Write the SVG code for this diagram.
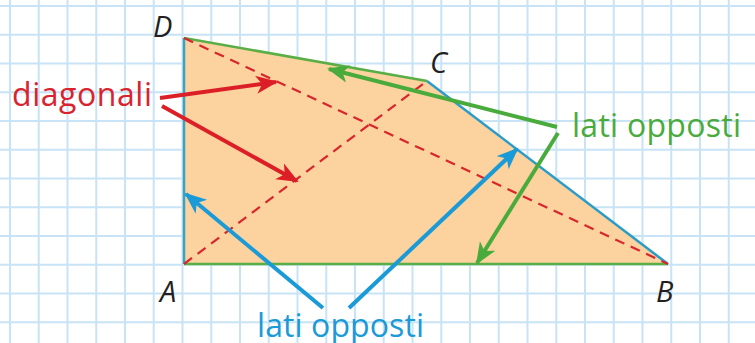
<svg xmlns="http://www.w3.org/2000/svg" width="755" height="343" viewBox="0 0 755 343">
<style>
.grid line{stroke:#c8e3f5;stroke-width:2}
.lbl{font-family:"Open Sans","Liberation Sans",sans-serif;font-size:32px}
.pt{font-family:"Open Sans","Liberation Sans",sans-serif;font-size:29px;font-style:italic;fill:#231f20}
.diag{stroke:#d7262c;stroke-width:2.2;stroke-dasharray:10 7;fill:none}
.ar{stroke-width:4;fill:none;stroke-linecap:butt}
</style>
<defs>
<marker id="mr" markerUnits="userSpaceOnUse" markerWidth="26" markerHeight="22" refX="20" refY="9" orient="auto"><path d="M0,0 L22,9 L0,18 L6,9 z" fill="#dc1f26"/></marker>
<marker id="mg" markerUnits="userSpaceOnUse" markerWidth="26" markerHeight="22" refX="20" refY="9" orient="auto"><path d="M0,0 L22,9 L0,18 L6,9 z" fill="#4aab3d"/></marker>
<marker id="mb" markerUnits="userSpaceOnUse" markerWidth="26" markerHeight="22" refX="20" refY="9" orient="auto"><path d="M0,0 L22,9 L0,18 L6,9 z" fill="#1a9ad6"/></marker>
</defs>
<rect width="755" height="343" fill="#ffffff"/>
<g class="grid">
<line x1="10" y1="0" x2="10" y2="343"/><line x1="38.75" y1="0" x2="38.75" y2="343"/><line x1="67.5" y1="0" x2="67.5" y2="343"/><line x1="96.25" y1="0" x2="96.25" y2="343"/><line x1="125" y1="0" x2="125" y2="343"/><line x1="153.75" y1="0" x2="153.75" y2="343"/><line x1="182.5" y1="0" x2="182.5" y2="343"/><line x1="211.25" y1="0" x2="211.25" y2="343"/><line x1="240" y1="0" x2="240" y2="343"/><line x1="268.75" y1="0" x2="268.75" y2="343"/><line x1="297.5" y1="0" x2="297.5" y2="343"/><line x1="326.25" y1="0" x2="326.25" y2="343"/><line x1="355" y1="0" x2="355" y2="343"/><line x1="383.75" y1="0" x2="383.75" y2="343"/><line x1="412.5" y1="0" x2="412.5" y2="343"/><line x1="441.25" y1="0" x2="441.25" y2="343"/><line x1="470" y1="0" x2="470" y2="343"/><line x1="498.75" y1="0" x2="498.75" y2="343"/><line x1="527.5" y1="0" x2="527.5" y2="343"/><line x1="556.25" y1="0" x2="556.25" y2="343"/><line x1="585" y1="0" x2="585" y2="343"/><line x1="613.75" y1="0" x2="613.75" y2="343"/><line x1="642.5" y1="0" x2="642.5" y2="343"/><line x1="671.25" y1="0" x2="671.25" y2="343"/><line x1="700" y1="0" x2="700" y2="343"/><line x1="728.75" y1="0" x2="728.75" y2="343"/>
<line x1="0" y1="6" x2="755" y2="6"/><line x1="0" y1="34.75" x2="755" y2="34.75"/><line x1="0" y1="63.5" x2="755" y2="63.5"/><line x1="0" y1="92.25" x2="755" y2="92.25"/><line x1="0" y1="121" x2="755" y2="121"/><line x1="0" y1="149.75" x2="755" y2="149.75"/><line x1="0" y1="178.5" x2="755" y2="178.5"/><line x1="0" y1="207.25" x2="755" y2="207.25"/><line x1="0" y1="236" x2="755" y2="236"/><line x1="0" y1="264.75" x2="755" y2="264.75"/><line x1="0" y1="293.5" x2="755" y2="293.5"/><line x1="0" y1="322.25" x2="755" y2="322.25"/>
</g>
<g id="trapezio">
<polygon points="184,38 427,81 668,264 184,264" fill="#fcd29e"/>
<line x1="184" y1="38" x2="184" y2="264" stroke="#3aa2c4" stroke-width="2.5"/>
<line x1="184" y1="264" x2="668" y2="264" stroke="#5aae46" stroke-width="2.5"/>
<line x1="668" y1="264" x2="427" y2="81" stroke="#2b9bc8" stroke-width="2.5"/>
<line x1="427" y1="81" x2="184" y2="38" stroke="#5aae46" stroke-width="2.5"/>
<line class="diag" x1="184" y1="38" x2="668" y2="264"/>
<line class="diag" x1="184" y1="264" x2="427" y2="81"/>
</g>
<g id="vertici">
<text class="pt" x="153" y="37">D</text>
<text class="pt" x="430" y="73">C</text>
<text class="pt" x="160" y="302">A</text>
<text class="pt" x="656" y="302">B</text>
</g>
<g id="etichetta-diagonali"><text class="lbl" x="12" y="106" fill="#d9232e" textLength="140">diagonali</text></g>
<g id="etichetta-lati-verdi"><text class="lbl" x="572" y="137" fill="#4aab3d" textLength="169">lati opposti</text></g>
<g id="etichetta-lati-blu"><text class="lbl" x="257" y="337" fill="#1a9ad6" textLength="167">lati opposti</text></g>
<g id="connettori">
<line class="ar" x1="160" y1="98" x2="276" y2="82" stroke="#dc1f26" marker-end="url(#mr)"/>
<line class="ar" x1="162" y1="106" x2="297" y2="181" stroke="#dc1f26" marker-end="url(#mr)"/>
<line class="ar" x1="557" y1="127" x2="329" y2="69" stroke="#4aab3d" marker-end="url(#mg)"/>
<line class="ar" x1="558" y1="133" x2="477" y2="263" stroke="#4aab3d" marker-end="url(#mg)"/>
<line class="ar" x1="323" y1="308" x2="186" y2="194" stroke="#1a9ad6" marker-end="url(#mb)"/>
<line class="ar" x1="349" y1="308" x2="517" y2="149" stroke="#1a9ad6" marker-end="url(#mb)"/>
</g>
</svg>
